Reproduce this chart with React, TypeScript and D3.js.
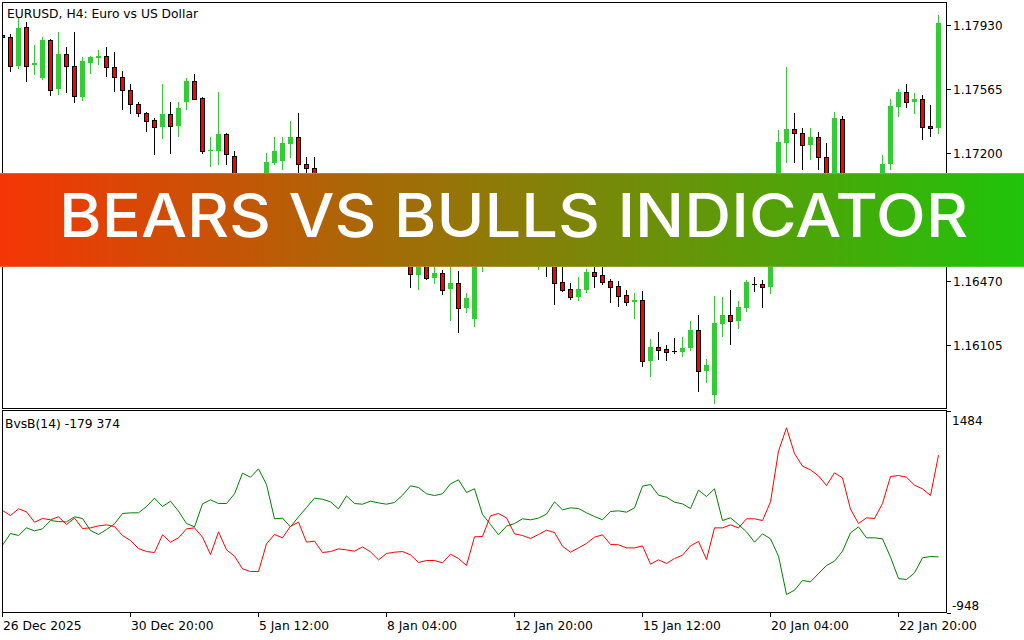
import React from "react";
import * as d3 from "d3";

// ---------- DATA ----------
const symbolTitle = "EURUSD, H4:  Euro vs US Dollar";
const indicatorTitle = "BvsB(14) -179 374";
const bannerText = "BEARS VS BULLS INDICATOR";

const opens = [
  1.17873, 1.17862, 1.17698, 1.17919, 1.17702, 1.17629, 1.17843, 1.17563, 1.17763, 1.17695,
  1.17521, 1.17712, 1.17744, 1.17753, 1.17689, 1.17632, 1.17559, 1.17478, 1.17426, 1.17387,
  1.17348, 1.17421, 1.17356, 1.17489, 1.17611, 1.17512, 1.17211, 1.17213, 1.17308, 1.17183,
  1.16961, 1.16846, 1.16903, 1.16989, 1.17145, 1.17154, 1.17251, 1.17291, 1.17136, 1.17113,
  1.17035, 1.16961, 1.17000, 1.16903, 1.16846, 1.16886, 1.16789, 1.16715, 1.16761, 1.16675,
  1.16618, 1.16647, 1.16506, 1.16601, 1.16489, 1.16516, 1.16426, 1.16459, 1.16318, 1.16253,
  1.16761, 1.16846, 1.16932, 1.16863, 1.16943, 1.16875, 1.16789, 1.16704, 1.16772, 1.16647,
  1.16464, 1.16424, 1.16381, 1.16420, 1.16520, 1.16504, 1.16470, 1.16442, 1.16390, 1.16352,
  1.16360, 1.16015, 1.16092, 1.16082, 1.16069, 1.16065, 1.16088, 1.16189, 1.15958, 1.15822,
  1.16225, 1.16276, 1.16244, 1.16316, 1.16455, 1.16453, 1.16438, 1.16761, 1.17259, 1.17337,
  1.17312, 1.17244, 1.17291, 1.17176, 1.16961, 1.17394, 1.16932, 1.16789, 1.16875, 1.16761,
  1.16846, 1.17137, 1.17464, 1.17548, 1.17489, 1.17508, 1.17354, 1.17341,
];
const highs = [
  1.17884, 1.17880, 1.17972, 1.17945, 1.17816, 1.17862, 1.17848, 1.17890, 1.17805, 1.17890,
  1.17748, 1.17753, 1.17787, 1.17803, 1.17776, 1.17668, 1.17594, 1.17489, 1.17434, 1.17400,
  1.17594, 1.17489, 1.17489, 1.17628, 1.17651, 1.17517, 1.17291, 1.17548, 1.17314, 1.17211,
  1.17017, 1.16961, 1.17046, 1.17198, 1.17293, 1.17293, 1.17384, 1.17428, 1.17179, 1.17179,
  1.17069, 1.17046, 1.17017, 1.16932, 1.16909, 1.16903, 1.16818, 1.16784, 1.16772, 1.16704,
  1.16681, 1.16658, 1.16635, 1.16618, 1.16578, 1.16533, 1.16578, 1.16527, 1.16402, 1.16789,
  1.16886, 1.16978, 1.16961, 1.16989, 1.16978, 1.16903, 1.16875, 1.16806, 1.16789, 1.16675,
  1.16578, 1.16459, 1.16491, 1.16537, 1.16578, 1.16573, 1.16481, 1.16468, 1.16419, 1.16402,
  1.16413, 1.16139, 1.16179, 1.16105, 1.16145, 1.16153, 1.16241, 1.16276, 1.16025, 1.16385,
  1.16379, 1.16419, 1.16356, 1.16476, 1.16493, 1.16476, 1.16806, 1.17331, 1.17692, 1.17428,
  1.17343, 1.17343, 1.17320, 1.17257, 1.17434, 1.17411, 1.16961, 1.16903, 1.16932, 1.16886,
  1.17190, 1.17508, 1.17565, 1.17595, 1.17542, 1.17531, 1.17474, 1.17987,
];
const lows = [
  1.17845, 1.17666, 1.17687, 1.17612, 1.17651, 1.17622, 1.17533, 1.17538, 1.17550, 1.17493,
  1.17502, 1.17655, 1.17706, 1.17641, 1.17552, 1.17453, 1.17430, 1.17411, 1.17327, 1.17196,
  1.17284, 1.17202, 1.17299, 1.17453, 1.17506, 1.17200, 1.17128, 1.17139, 1.17139, 1.16903,
  1.16806, 1.16789, 1.16863, 1.16961, 1.17137, 1.17107, 1.17179, 1.17057, 1.17069, 1.17012,
  1.16932, 1.16938, 1.16875, 1.16806, 1.16818, 1.16750, 1.16681, 1.16692, 1.16647, 1.16578,
  1.16590, 1.16438, 1.16426, 1.16483, 1.16460, 1.16398, 1.16248, 1.16181, 1.16295, 1.16215,
  1.16529, 1.16806, 1.16818, 1.16841, 1.16829, 1.16750, 1.16675, 1.16537, 1.16500, 1.16341,
  1.16415, 1.16369, 1.16363, 1.16409, 1.16438, 1.16455, 1.16352, 1.16329, 1.16335, 1.16261,
  1.15987, 1.15930, 1.16025, 1.16019, 1.16061, 1.16042, 1.16077, 1.15843, 1.15894, 1.15776,
  1.16156, 1.16111, 1.16202, 1.16299, 1.16413, 1.16322, 1.16403, 1.16738, 1.17150, 1.17150,
  1.17107, 1.17164, 1.17107, 1.16932, 1.16932, 1.16903, 1.16732, 1.16750, 1.16704, 1.16715,
  1.16818, 1.17107, 1.17413, 1.17464, 1.17428, 1.17282, 1.17299, 1.17316,
];
const closes = [
  1.17859, 1.17698, 1.17913, 1.17698, 1.17715, 1.17845, 1.17558, 1.17765, 1.17695, 1.17523,
  1.17725, 1.17748, 1.17753, 1.17689, 1.17632, 1.17559, 1.17478, 1.17426, 1.17384, 1.17350,
  1.17422, 1.17356, 1.17457, 1.17612, 1.17510, 1.17213, 1.17217, 1.17308, 1.17196, 1.16961,
  1.16846, 1.16903, 1.16989, 1.17147, 1.17211, 1.17255, 1.17291, 1.17136, 1.17113, 1.17035,
  1.16961, 1.17000, 1.16903, 1.16846, 1.16886, 1.16789, 1.16715, 1.16761, 1.16675, 1.16618,
  1.16647, 1.16508, 1.16601, 1.16489, 1.16516, 1.16420, 1.16459, 1.16318, 1.16373, 1.16761,
  1.16846, 1.16932, 1.16863, 1.16943, 1.16875, 1.16789, 1.16704, 1.16772, 1.16647, 1.16460,
  1.16420, 1.16381, 1.16424, 1.16521, 1.16500, 1.16466, 1.16438, 1.16386, 1.16352, 1.16362,
  1.16015, 1.16092, 1.16078, 1.16067, 1.16069, 1.16088, 1.16191, 1.15958, 1.15991, 1.16231,
  1.16276, 1.16244, 1.16322, 1.16464, 1.16455, 1.16438, 1.16761, 1.17263, 1.17337, 1.17312,
  1.17244, 1.17291, 1.17176, 1.16961, 1.17400, 1.16932, 1.16789, 1.16875, 1.16761, 1.16846,
  1.17137, 1.17468, 1.17548, 1.17489, 1.17508, 1.17350, 1.17341, 1.17941,
];

const bearsLine = [
  280, 220, 300, 264, 139, 184, 168, 204, 111, 188,
  63, 71, 95, 107, 87, -21, -81, -178, -214, -226,
  -13, -101, -49, 59, 71, -41, -250, 23, -194, -270,
  -422, -455, -455, -121, -9, -49, 91, 139, -101, -89,
  -226, -214, -182, -194, -210, -158, -218, -314, -238, -222,
  -214, -254, -346, -322, -322, -350, -246, -298, -382, -37,
  -33, 216, 244, 192, -1, -21, -57, -9, 43, 15,
  -150, -222, -170, -117, -41, -13, -129, -133, -170, -170,
  -146, -366, -314, -358, -298, -258, -146, -93, -310, 71,
  71, 107, 71, 180, 180, 159, 384, 994, 1275, 966,
  814, 769, 697, 581, 733, 673, 296, 123, 192, 184,
  364, 689, 701, 681, 585, 541, 460, 946,
];
const bullsLine = [
  -137, 3, -21, 71, 35, 59, 159, 147, 143, 204,
  184, 39, -9, 51, 119, 244, 252, 252, 328, 428,
  328, 392, 272, 123, 83, 360, 408, 364, 364, 481,
  729, 681, 781, 593, 180, 188, 83, 204, 316, 428,
  416, 384, 300, 456, 364, 356, 392, 372, 356, 376,
  464, 577, 557, 481, 460, 481, 601, 649, 497, 541,
  232, 111, -13, 91, 123, 180, 168, 188, 236, 384,
  288, 312, 304, 252, 208, 168, 268, 276, 260, 312,
  573, 593, 464, 440, 380, 360, 304, 525, 448, 541,
  159, 192, 111, 23, -101, -1, -61, -270, -731, -679,
  -563, -579, -479, -382, -330, -210, 11, 83, -49, -49,
  -61, -282, -539, -551, -471, -290, -274, -278,
];

const priceTicks = [1.16105, 1.1647, 1.16835, 1.172, 1.17565, 1.1793];
const indicatorTicks = [1484, -948];
const timeLabels = [
  "26 Dec 2025", "30 Dec 20:00", "5 Jan 12:00", "8 Jan 04:00",
  "12 Jan 20:00", "15 Jan 12:00", "20 Jan 04:00", "22 Jan 20:00",
];
const timeLabelBars = [0, 16, 32, 48, 64, 80, 96, 112];

// ---------- LAYOUT ----------
const W = 1024;
const H = 640;
const FRAME_L = 2;
const FRAME_R = 946;
const MAIN_T = 2;
const MAIN_B = 408;
const IND_T = 410;
const IND_B = 612;
const BULL = "#32CD32";
const BEAR = "#FF0000";
const FONT = "'DejaVu Sans', sans-serif";

export default function App() {
  const n = closes.length;
  const x = d3.scaleLinear().domain([0, n - 1]).range([2.5, 2.5 + 8 * (n - 1)]);
  const y = d3.scaleLinear().domain([1.16105, 1.1793]).range([345, 25]);
  const yi = d3.scaleLinear().domain([-948, 1484]).range([IND_B + 0.5, IND_T + 0.5]);

  const line = d3
    .line<number>()
    .x((_, i) => x(i))
    .y((v) => yi(v));

  const candles = d3.range(n).map((i) => {
    const cx = x(i);
    const o = opens[i];
    const c = closes[i];
    const yo = y(o);
    const yc = y(c);
    const yh = Math.round(y(highs[i]));
    const yl = Math.round(y(lows[i]));
    if (c > o) {
      const top = Math.round(yc);
      const bot = Math.max(Math.round(yo), top + 1);
      return (
        <g key={i}>
          <line x1={cx} x2={cx} y1={yh} y2={yl + 1} stroke={BULL} strokeWidth={1} />
          <rect x={cx - 2.5} y={top} width={5} height={bot - top} fill={BULL} />
        </g>
      );
    } else if (c < o) {
      const top = Math.round(yo);
      const bot = Math.max(Math.round(yc), top + 1);
      return (
        <g key={i}>
          <line x1={cx} x2={cx} y1={yh} y2={yl + 1} stroke="#000" strokeWidth={1} />
          <rect
            x={cx - 2}
            y={top + 0.5}
            width={4}
            height={bot - top}
            fill={BEAR}
            stroke="#000"
            strokeWidth={1}
          />
        </g>
      );
    }
    const yy = Math.round(yo) + 0.5;
    return (
      <g key={i}>
        <line x1={cx} x2={cx} y1={yh} y2={yl + 1} stroke="#000" strokeWidth={1} />
        <line x1={cx - 2.5} x2={cx + 2.5} y1={yy} y2={yy} stroke="#000" strokeWidth={1} />
      </g>
    );
  });

  return (
    <svg
      width={W}
      height={H}
      viewBox={`0 0 ${W} ${H}`}
      style={{ position: "absolute", left: 0, top: 0, display: "block", background: "#fff" }}
    >
      <defs>
        <clipPath id="mainClip">
          <rect x={FRAME_L + 1} y={MAIN_T + 1} width={FRAME_R - FRAME_L - 1} height={MAIN_B - MAIN_T - 1} />
        </clipPath>
        <clipPath id="indClip">
          <rect x={FRAME_L + 1} y={IND_T + 1} width={FRAME_R - FRAME_L - 1} height={IND_B - IND_T - 1} />
        </clipPath>
        <linearGradient id="bannerGrad" x1="0" x2="1" y1="0" y2="0">
          <stop offset="0" stopColor="#F53505" />
          <stop offset="1" stopColor="#1FC40A" />
        </linearGradient>
      </defs>
      <rect x={0} y={0} width={W} height={H} fill="#fff" />

      {/* main chart frame */}
      <rect
        x={FRAME_L + 0.5}
        y={MAIN_T + 0.5}
        width={FRAME_R - FRAME_L}
        height={MAIN_B - MAIN_T}
        fill="none"
        stroke="#000"
        strokeWidth={1}
        shapeRendering="crispEdges"
      />
      <g clipPath="url(#mainClip)" shapeRendering="crispEdges">{candles}</g>

      {/* price axis */}
      {priceTicks.map((p) => {
        const ty = Math.round(y(p)) + 0.5;
        return (
          <g key={p}>
            <line x1={FRAME_R + 1} x2={FRAME_R + 5} y1={ty} y2={ty} stroke="#000" strokeWidth={1} shapeRendering="crispEdges" />
            <text x={FRAME_R + 7} y={ty + 4.5} fontFamily={FONT} fontSize={12} fill="#000">
              {p.toFixed(5)}
            </text>
          </g>
        );
      })}

      <text x={7} y={18} fontFamily={FONT} fontSize={12.3} fill="#000">
        {symbolTitle}
      </text>

      {/* indicator panel */}
      <rect
        x={FRAME_L + 0.5}
        y={IND_T + 0.5}
        width={FRAME_R - FRAME_L}
        height={IND_B - IND_T}
        fill="none"
        stroke="#000"
        strokeWidth={1}
        shapeRendering="crispEdges"
      />
      <g clipPath="url(#indClip)">
        <path d={line(bullsLine) || ""} fill="none" stroke="#008000" strokeWidth={1} />
        <path d={line(bearsLine) || ""} fill="none" stroke="#FF0000" strokeWidth={1} />
      </g>
      <text x={5} y={427.5} fontFamily={FONT} fontSize={12.3} fill="#000">
        {indicatorTitle}
      </text>
      {indicatorTicks.map((v, k) => {
        const ty = Math.round(yi(v)) + 0.5;
        return (
          <g key={v}>
            <line x1={FRAME_R + 1} x2={FRAME_R + 5} y1={ty} y2={ty} stroke="#000" strokeWidth={1} shapeRendering="crispEdges" />
            <text x={FRAME_R + 6} y={k === 0 ? ty + 13 : ty - 3.5} fontFamily={FONT} fontSize={12} fill="#000">
              {String(v)}
            </text>
          </g>
        );
      })}

      {/* time axis */}
      {timeLabelBars.map((b, k) => {
        const tx = Math.floor(x(b)) + 0.5;
        return (
          <g key={b}>
            <line x1={tx} x2={tx} y1={IND_B + 1} y2={IND_B + 5} stroke="#000" strokeWidth={1} shapeRendering="crispEdges" />
            <text x={tx + 0.5} y={630} fontFamily={FONT} fontSize={12.3} fill="#000">
              {timeLabels[k]}
            </text>
          </g>
        );
      })}

      {/* banner */}
      <rect x={0} y={173} width={W} height={94} fill="url(#bannerGrad)" />
      <rect x={0} y={173} width={W} height={1} fill="#fff" opacity={0.18} />
      <rect x={0} y={266} width={W} height={1} fill="#fff" opacity={0.18} />
      <text
        x={59}
        y={237}
        fontFamily="Inter, 'Open Sans', sans-serif"
        fontWeight={500}
        fontSize={60}
        fill="#fff"
        textLength={909}
        lengthAdjust="spacingAndGlyphs"
      >
        {bannerText}
      </text>
    </svg>
  );
}
